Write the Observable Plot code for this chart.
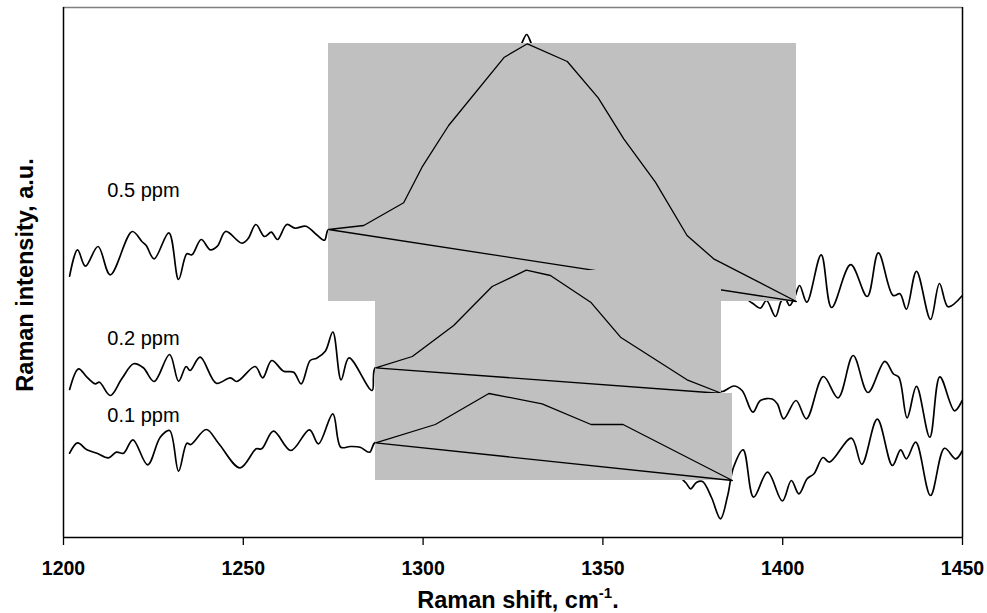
<!DOCTYPE html>
<html>
<head>
<meta charset="utf-8">
<script src="https://cdn.jsdelivr.net/npm/d3@7"></script>
<script src="https://cdn.jsdelivr.net/npm/@observablehq/plot@0.6"></script>
<style>
  body { margin: 0; background: #fff; }
  svg { display: block; }
</style>
</head>
<body>
<div id="chart"></div>
<script>
// ---- data (Raman shift in cm-1, intensity in arbitrary units) ----
const series = ["0.5 ppm", "0.2 ppm", "0.1 ppm"];
const xTicks = [1200, 1250, 1300, 1350, 1400, 1450];

const shift05 = [1201.7,1203.9,1206.1,1209.6,1213.0,1219.1,1221.8,1223.0,1225.2,1229.3,1232.0,1234.3,1235.7,1238.3,1240.8,1242.8,1245.1,1249.6,1251.3,1253.5,1255.9,1257.8,1259.5,1262.1,1264.4,1267.4,1270.4,1272.6,1273.7,
  1278.4,1293.7,1307.6,1318.7,1324.9,1327.4,1328.8,1330.1,1332.6,1343.8,1360.5,1377.1,1388.3,
  1390.5,1391.9,1393.8,1395.5,1398.0,1399.7,1400.8,1401.9,1403.3,1404.7,1406.7,1410.7,1413.6,1418.9,1423.5,1426.6,1430.7,1432.6,1434.4,1437.2,1441.1,1443.6,1446.0,1449.9];
const int05 = [261.3,287.7,271.3,291,262.7,306,296,292,278.7,304.7,258,283.7,282.7,298,287.7,291.3,306,294.3,298.7,313,301,305.3,298,313,309.3,311.3,302.7,297.3,308,
  309,332,387,447,477,494,503,494,475,427,357,287,247,
  237,233.5,229.3,237,221,237,238,232,240,252,235.3,282.7,230,272.8,241,284.7,242,243.7,228.3,266.2,218,254,230.7,241.7];

const shift02 = [1201.7,1204.2,1206.5,1208.8,1210.0,1213.0,1216.2,1219.5,1222.2,1225.2,1229.5,1232.0,1234.1,1235.2,1238.0,1242.5,1246.4,1248.2,1253.3,1255.4,1257.9,1261.2,1264.0,1266.1,1268.6,1270.4,1272.8,1274.9,1277.2,1279.4,1285.8,1286.8,
  1293.7,1321.5,1349.3,1377.1,1381.3,
  1383.3,1386.4,1388.7,1391.7,1393.8,1397.1,1398.5,1400.3,1403.7,1406.6,1411.3,1415.4,1419.6,1423.7,1428.4,1430.8,1432.3,1434.6,1437.2,1440.9,1443.7,1447.8,1449.9];
const int02 = [148,168.7,160.3,153.7,155.3,142,158.7,173.7,169.7,156,183,156.3,171,167,180.3,154.3,159.7,156,171,159.7,177,166.3,165.3,153.7,177,179.3,186.3,205.5,157.7,179.7,147,170.3,
  165,175,171,157,148,
  146,151.5,147,125.3,137,138.5,133.7,118.7,137,118.7,161,139.7,182,145,176.2,163.5,160.3,119.7,151.2,100.3,160.7,126.7,137];

const shift01 = [1201.7,1203.9,1206.5,1209.3,1212.5,1214.7,1216.7,1219.3,1223.4,1226.9,1229.5,1232.0,1234.3,1235.4,1239.7,1243.1,1249.1,1253.6,1255.1,1258.4,1263.2,1268.4,1270.9,1274.9,1277.1,1279.7,1282.5,1285.1,1286.8,
  1299.3,1327.1,1354.9,1368.8,1373.0,1374.4,1376.0,1377.7,1380.2,1382.7,1384.7,1386.3,
  1389.0,1391.9,1395.8,1399.9,1402.4,1404.5,1406.8,1408.7,1411.2,1413.0,1419.1,1422.0,1426.3,1430.5,1432.8,1434.4,1437.0,1441.1,1445.0,1448.1,1449.9];
const int01 = [84.3,94.7,87.7,84.3,79.7,85.3,84.3,97.7,72.7,100.3,107,66.3,94.3,93,108,94.3,69.7,88.7,88.7,106.3,87,107.7,93.7,123.7,90.3,91,90.3,85.3,95.5,
  97,92,82,67,55,48.7,55,56,40,18.7,42,70,
  87.7,40.3,65.3,36.5,57,43.7,58.7,63.7,80,75.3,99.3,73.2,118.3,72,87.7,78.7,95.3,42,89.2,78.7,86.5];

// peak outlines (first and last vertex joined by the baseline)
const peak05x = [1273.7,1283.5,1294.6,1299.7,1307.1,1322.6,1329.0,1340.1,1348.7,1355.8,1364.6,1373.4,1380.8,1403.8];
const peak05y = [308,312,334.7,370.3,412,480.3,493.7,476,439.7,398.7,355.3,302,278.7,236];
const peak02x = [1286.8,1297.0,1308.5,1319.2,1328.7,1335.4,1346.6,1354.9,1373.4,1383.1];
const peak02y = [169.7,181,212,251,267.3,262,235.3,200.3,157.7,144];
const peak01x = [1286.8,1303.4,1318.3,1333.1,1346.7,1355.6,1386.0];
const peak01y = [94.7,113,144,133.7,113,113,57];

const labelShift = [1212.2, 1212.2, 1212.2];
const labelInt = [346.5, 198.5, 122];

// ---- build ----
const FONT = "'Liberation Sans', Arial, Helvetica, sans-serif";
const toPts = (xs, ys) => xs.map((x, i) => ({x, y: ys[i]}));
const groups = [
  {spec: toPts(shift05, int05), peak: toPts(peak05x, peak05y)},
  {spec: toPts(shift02, int02), peak: toPts(peak02x, peak02y)},
  {spec: toPts(shift01, int01), peak: toPts(peak01x, peak01y)}
];

const marks = [];
for (const g of groups) {
  marks.push(Plot.line(g.spec, {x: "x", y: "y", curve: "catmull-rom", stroke: "#000", strokeWidth: 1.7}));
  const [x1, x2] = d3.extent(g.peak, d => d.x);
  const [y1, y2] = d3.extent(g.peak, d => d.y);
  marks.push(Plot.rect([{x1, x2, y1, y2}], {x1: "x1", x2: "x2", y1: "y1", y2: "y2", fill: "#C0C0C0", shapeRendering: "crispEdges"}));
  marks.push(Plot.line([...g.peak, g.peak[0]], {x: "x", y: "y", stroke: "#000", strokeWidth: 1.3}));
}

const labels = series.map((s, i) => ({s, x: labelShift[i], y: labelInt[i]}));

const chart = Plot.plot({
  width: 987,
  height: 613,
  marginLeft: 63,
  marginRight: 25,
  marginTop: 7,
  marginBottom: 76,
  style: {fontFamily: FONT, background: "#fff", color: "#000"},
  x: {domain: [1200, 1450]},
  y: {domain: [0, 530], axis: null},
  marks: [
    ...marks,
    Plot.text(labels, {x: "x", y: "y", text: "s", textAnchor: "start", fontSize: 20, fill: "#000", fontFamily: FONT}),
    Plot.ruleY([530], {stroke: "#808080", strokeWidth: 1.5}),
    Plot.ruleY([0], {stroke: "#000", strokeWidth: 1.5}),
    Plot.ruleX([1200, 1450], {stroke: "#000", strokeWidth: 1.5}),
    Plot.axisX({ticks: xTicks, tickSize: 8, tickPadding: 16, tickFormat: d => String(d), fontSize: 19.5, fontWeight: "bold", fontFamily: FONT, label: null, strokeWidth: 1.3})
  ]
});

document.getElementById("chart").appendChild(chart);

const svg = d3.select(chart);
// y-axis title
svg.append("text")
  .attr("transform", "translate(33,275) rotate(-90)")
  .attr("text-anchor", "middle")
  .attr("font-family", FONT)
  .attr("font-size", 23.5)
  .attr("font-weight", "bold")
  .attr("fill", "#000")
  .text("Raman intensity, a.u.");
// x-axis title with superscript
const xt = svg.append("text")
  .attr("x", 518).attr("y", 608)
  .attr("text-anchor", "middle")
  .attr("font-family", FONT)
  .attr("font-size", 23.5)
  .attr("font-weight", "bold")
  .attr("fill", "#000");
xt.append("tspan").text("Raman shift, cm");
xt.append("tspan").attr("dy", -10).attr("font-size", 15).text("-1");
xt.append("tspan").attr("dy", 10).text(".");
</script>
</body>
</html>
